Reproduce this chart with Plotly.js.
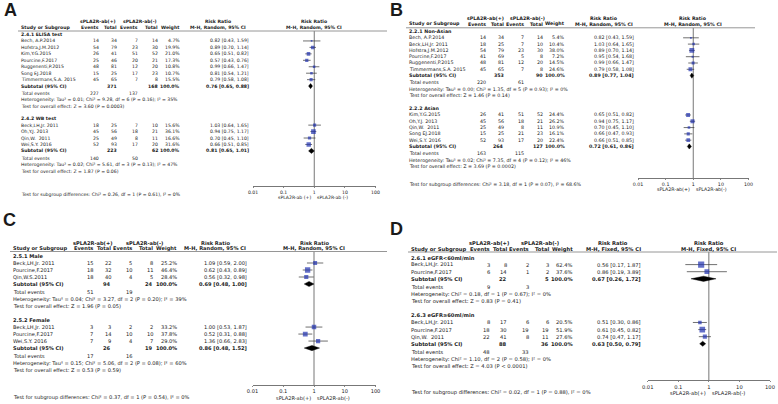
<!DOCTYPE html>
<html><head><meta charset="utf-8">
<script src="https://cdn.plot.ly/plotly-3.0.1.min.js"></script>
<style>html,body{margin:0;padding:0;background:#fff}#chart{width:778px;height:404px}</style>
</head><body><div id="chart"></div>
<script>
// ---------------- Common ----------------
const tickVals = [0.01, 0.1, 1, 10, 100];
const tickLabels = ["0.01", "0.1", "1", "10", "100"];
const posLabel = "sPLA2R-ab(+)";
const negLabel = "sPLA2R-ab(-)";

// ---------------- Panel A ----------------
const aGroupTitles = ["2.4.1 ELISA test", "2.4.2 WB test"];
const aStudy = ["Bech, A.P.2014", "Hofstra,J.M.2012", "Kim,Y.G.2015", "Pourcine,F.2017", "Ruggenenti,P.2015", "Song EJ.2018", "Timmermans,S.A. 2015", "Beck,LH,Jr. 2011", "Oh,Y.J. 2013", "Qin,W.  2011", "Wei,S.Y. 2016"];
const aGroup = [0, 0, 0, 0, 0, 0, 0, 1, 1, 1, 1];
const aEvPos = [14, 54, 26, 25, 48, 15, 45, 18, 45, 25, 52];
const aTotPos = [34, 79, 41, 46, 81, 25, 65, 25, 56, 49, 93];
const aEvNeg = [7, 23, 51, 20, 12, 17, 7, 7, 18, 8, 17];
const aTotNeg = [14, 30, 52, 21, 20, 23, 8, 10, 21, 11, 20];
const aWeight = [4.7, 19.9, 21.0, 17.3, 10.8, 10.7, 15.5, 15.6, 36.1, 16.6, 31.6];
const aRR = [0.82, 0.89, 0.65, 0.57, 0.99, 0.81, 0.79, 1.03, 0.94, 0.70, 0.66];
const aLo = [0.43, 0.70, 0.51, 0.43, 0.66, 0.54, 0.58, 0.64, 0.75, 0.45, 0.51];
const aHi = [1.59, 1.14, 0.82, 0.76, 1.47, 1.21, 1.08, 1.65, 1.17, 1.10, 0.85];
const aSubTotPos = [371, 223];
const aSubTotNeg = [168, 62];
const aSubRR = [0.76, 0.81];
const aSubLo = [0.65, 0.65];
const aSubHi = [0.88, 1.01];
const aSumEvPos = [227, 140];
const aSumEvNeg = [137, 50];
const aHet = ["Heterogeneity: Tau² = 0.01; Chi² = 9.28, df = 6 (P = 0.16); I² = 35%", "Heterogeneity: Tau² = 0.02; Chi² = 5.61, df = 3 (P = 0.13); I² = 47%"];
const aTest = ["Test for overall effect: Z = 3.60 (P = 0.0003)", "Test for overall effect: Z = 1.87 (P = 0.06)"];
const aSubgroupDiff = "Test for subgroup differences: Chi² = 0.26, df = 1 (P = 0.61), I² = 0%";
const aMethod = "M-H, Random, 95% CI";
const aAxisLabels = ["sPLA2R-ab (+)", "sPLA2R-ab (-)"];

// ---------------- Panel B ----------------
const bGroupTitles = ["2.2.1 Non-Asian", "2.2.2 Asian"];
const bStudy = ["Bech, A.P.2014", "Beck,LH,Jr. 2011", "Hofstra,J.M.2012", "Pourcine,F.2017", "Ruggenenti,P.2015", "Timmermans,S.A. 2015", "Kim,Y.G.2015", "Oh,Y.J. 2013", "Qin,W.  2011", "Song EJ.2018", "Wei,S.Y. 2016"];
const bGroup = [0, 0, 0, 0, 0, 0, 1, 1, 1, 1, 1];
const bEvPos = [14, 18, 54, 41, 48, 45, 26, 45, 25, 15, 52];
const bTotPos = [34, 25, 79, 69, 81, 65, 41, 56, 49, 25, 93];
const bEvNeg = [7, 7, 23, 5, 12, 7, 51, 18, 8, 21, 17];
const bTotNeg = [14, 10, 30, 8, 20, 8, 52, 21, 11, 23, 20];
const bWeight = [5.4, 10.4, 38.0, 7.2, 14.5, 24.6, 24.4, 26.2, 10.9, 16.1, 22.4];
const bRR = [0.82, 1.03, 0.89, 0.95, 0.99, 0.79, 0.65, 0.94, 0.70, 0.66, 0.66];
const bLo = [0.43, 0.64, 0.70, 0.54, 0.66, 0.58, 0.51, 0.75, 0.45, 0.47, 0.51];
const bHi = [1.59, 1.65, 1.14, 1.68, 1.47, 1.08, 0.82, 1.17, 1.10, 0.93, 0.85];
const bSubTotPos = [353, 264];
const bSubTotNeg = [90, 127];
const bSubRR = [0.89, 0.72];
const bSubLo = [0.77, 0.61];
const bSubHi = [1.04, 0.86];
const bSumEvPos = [220, 163];
const bSumEvNeg = [61, 115];
const bHet = ["Heterogeneity: Tau² = 0.00; Chi² = 1.35, df = 5 (P = 0.93); I² = 0%", "Heterogeneity: Tau² = 0.02; Chi² = 7.35, df = 4 (P = 0.12); I² = 46%"];
const bTest = ["Test for overall effect: Z = 1.46 (P = 0.14)", "Test for overall effect: Z = 3.69 (P = 0.0002)"];
const bSubgroupDiff = "Test for subgroup differences: Chi² = 3.18, df = 1 (P = 0.07), I² = 68.6%";
const bMethod = "M-H, Random, 95% CI";
const bAxisLabels = ["sPLA2R-ab(+)", "sPLA2R-ab(-)"];

// ---------------- Panel C ----------------
const cGroupTitles = ["2.5.1 Male", "2.5.2 Female"];
const cStudy = ["Beck,LH,Jr. 2011", "Pourcine,F.2017", "Qin,W.S.2011", "Beck,LH,Jr. 2011", "Pourcine,F.2017", "Wei,S.Y. 2016"];
const cGroup = [0, 0, 0, 1, 1, 1];
const cEvPos = [15, 18, 18, 3, 7, 7];
const cTotPos = [22, 32, 40, 3, 14, 9];
const cEvNeg = [5, 10, 4, 2, 10, 4];
const cTotNeg = [8, 11, 5, 2, 10, 7];
const cWeight = [25.2, 46.4, 28.4, 33.2, 37.8, 29.0];
const cRR = [1.09, 0.62, 0.56, 1.00, 0.52, 1.36];
const cLo = [0.59, 0.43, 0.32, 0.53, 0.31, 0.66];
const cHi = [2.00, 0.89, 0.98, 1.87, 0.88, 2.83];
const cSubTotPos = [94, 26];
const cSubTotNeg = [24, 19];
const cSubRR = [0.69, 0.86];
const cSubLo = [0.48, 0.48];
const cSubHi = [1.00, 1.52];
const cSumEvPos = [51, 17];
const cSumEvNeg = [19, 16];
const cHet = ["Heterogeneity: Tau² = 0.04; Chi² = 3.27, df = 2 (P = 0.20); I² = 39%", "Heterogeneity: Tau² = 0.15; Chi² = 5.06, df = 2 (P = 0.08); I² = 60%"];
const cTest = ["Test for overall effect: Z = 1.96 (P = 0.05)", "Test for overall effect: Z = 0.53 (P = 0.59)"];
const cSubgroupDiff = "Test for subgroup differences: Chi² = 0.37, df = 1 (P = 0.54), I² = 0%";
const cMethod = "M-H, Random, 95% CI";
const cAxisLabels = ["sPLA2R-ab(+)", "sPLA2R-ab(-)"];

// ---------------- Panel D ----------------
const dGroupTitles = ["2.6.1 eGFR<60ml/min", "2.6.3 eGFR≥60ml/min"];
const dStudy = ["Beck,LH,Jr. 2011", "Pourcine,F.2017", "Beck,LH,Jr. 2011", "Pourcine,F.2017", "Qin,W.  2011"];
const dGroup = [0, 0, 1, 1, 1];
const dEvPos = [3, 6, 8, 18, 22];
const dTotPos = [8, 14, 17, 30, 41];
const dEvNeg = [2, 1, 6, 19, 8];
const dTotNeg = [3, 2, 6, 19, 11];
const dWeight = [62.4, 37.6, 20.5, 51.9, 27.6];
const dRR = [0.56, 0.86, 0.51, 0.61, 0.74];
const dLo = [0.17, 0.19, 0.30, 0.45, 0.47];
const dHi = [1.87, 3.89, 0.86, 0.82, 1.17];
const dSubTotPos = [22, 88];
const dSubTotNeg = [5, 36];
const dSubRR = [0.67, 0.63];
const dSubLo = [0.26, 0.50];
const dSubHi = [1.72, 0.79];
const dSumEvPos = [9, 48];
const dSumEvNeg = [3, 33];
const dHet = ["Heterogeneity: Chi² = 0.18, df = 1 (P = 0.67); I² = 0%", "Heterogeneity: Chi² = 1.10, df = 2 (P = 0.58); I² = 0%"];
const dTest = ["Test for overall effect: Z = 0.83 (P = 0.41)", "Test for overall effect: Z = 4.03 (P < 0.0001)"];
const dSubgroupDiff = "Test for subgroup differences: Chi² = 0.02, df = 1 (P = 0.88), I² = 0%";
const dMethod = "M-H, Fixed, 95% CI";
const dAxisLabels = ["sPLA2R-ab(+)", "sPLA2R-ab(-)"];

// ---------------- Rendering ----------------
const W = 778, H = 404;
const FONT = "DejaVu Sans, Verdana, sans-serif";
const LETTER_FONT = "Liberation Sans, Arial, sans-serif";
const TXT = "#1a1a1a";
const annotations = [], shapes = [], traces = [];
const layout = {
  width: W, height: H, margin: {l: 0, r: 0, t: 0, b: 0},
  paper_bgcolor: "#fff", plot_bgcolor: "rgba(0,0,0,0)",
  showlegend: false, annotations: annotations, shapes: shapes,
  font: {family: FONT, size: 5, color: TXT}
};

function esc(s) { return String(s).replace(/&/g, "&amp;").replace(/</g, "&lt;").replace(/>/g, "&gt;"); }
function ann(x, y, text, anchor, bold, size, fam) {
  const t = esc(text);
  annotations.push({
    xref: "paper", yref: "paper", x: x / W, y: 1 - y / H,
    text: bold ? "<b>" + t + "</b>" : t,
    xanchor: anchor || "left", yanchor: "middle", showarrow: false,
    borderpad: 0, font: {family: fam || FONT, size: size, color: TXT}
  });
}
function ciText(r, l, h) { return r.toFixed(2) + " [" + l.toFixed(2) + ", " + h.toFixed(2) + "]"; }

function rowLayout(sizes, L) {
  const out = {title: [], study: [], sub: [], tot: [], het: [], test: []};
  let y = L.title;
  sizes.forEach((n, g) => {
    if (g > 0) y += L.step * L.gap2;
    out.title.push(y);
    for (let i = 0; i < n; i++) { y += L.step; out.study.push(y); }
    y += L.step; out.sub.push(y);
    y += L.step * 1.15; out.tot.push(y);
    y += L.step; out.het.push(y);
    y += L.step; out.test.push(y);
  });
  return out;
}

function buildPanel(n, d, L) {
  const sfx = n === 1 ? "" : String(n);
  const xa = "x" + sfx, ya = "y" + sfx;
  const fs = L.fs;
  layout["xaxis" + sfx] = {
    type: "log", range: [-2, 2], domain: [L.f0 / W, L.f1 / W], anchor: ya,
    showline: true, linecolor: "#555", linewidth: 0.8,
    ticks: "outside", ticklen: 1.5, tickwidth: 0.7, tickcolor: "#555",
    tickvals: tickVals, ticktext: tickLabels,
    tickfont: {family: FONT, size: fs, color: TXT},
    showgrid: false, zeroline: false, fixedrange: true
  };
  layout["yaxis" + sfx] = {
    visible: false, domain: [1 - L.axisY / H, 1 - L.lineY / H],
    range: [L.axisY, L.lineY], fixedrange: true
  };
  const oneX = (L.f0 + L.f1) / 2;

  ann(L.lx, L.ly, L.letter, "left", true, 18, LETTER_FONT);
  ann(L.hdrPX, L.head1, posLabel, "center", true, fs);
  ann(L.hdrNX, L.head1, negLabel, "center", true, fs);
  ann(L.rrHX, L.head1, "Risk Ratio", "center", true, fs);
  ann(oneX, L.head1, "Risk Ratio", "center", true, fs);
  ann(L.nameX, L.head2, "Study or Subgroup", "left", true, fs);
  ann(L.evPX, L.head2, "Events", "right", true, fs);
  ann(L.totPX, L.head2, "Total", "right", true, fs);
  ann(L.evNX, L.head2, "Events", "right", true, fs);
  ann(L.totNX, L.head2, "Total", "right", true, fs);
  ann(L.wX, L.head2, "Weight", "right", true, fs);
  ann(L.rrHX, L.head2, d.method, "center", true, fs);
  ann(oneX, L.head2, d.method, "center", true, fs);
  shapes.push({type: "line", xref: "paper", yref: "paper",
    x0: L.lineX0 / W, x1: L.lineX1 / W, y0: 1 - L.lineY / H, y1: 1 - L.lineY / H,
    line: {color: "#8a8a8a", width: 0.9}});

  const sizes = d.groupTitles.map((_, g) => d.group.filter(v => v === g).length);
  const R = rowLayout(sizes, L);

  const ciX = [], ciY = [], sqX = [], sqY = [], sqS = [];
  d.study.forEach((s, i) => {
    const y = R.study[i];
    ann(L.nameX, y, s, "left", false, fs);
    ann(L.evPX, y, d.evPos[i], "right", false, fs);
    ann(L.totPX, y, d.totPos[i], "right", false, fs);
    ann(L.evNX, y, d.evNeg[i], "right", false, fs);
    ann(L.totNX, y, d.totNeg[i], "right", false, fs);
    ann(L.wX, y, d.weight[i].toFixed(1) + "%", "right", false, fs);
    ann(L.rrX, y, ciText(d.rr[i], d.lo[i], d.hi[i]), "right", false, fs);
    ciX.push(d.lo[i], d.hi[i], null); ciY.push(y, y, null);
    sqX.push(d.rr[i]); sqY.push(y); sqS.push(Math.max(1.6, 0.78 * Math.sqrt(d.weight[i])));
  });
  const dmX = [], dmY = [];
  d.groupTitles.forEach((t, g) => {
    ann(L.nameX, R.title[g], t, "left", true, fs);
    const ys = R.sub[g];
    ann(L.nameX, ys, "Subtotal (95% CI)", "left", true, fs);
    ann(L.totPX, ys, d.subTotPos[g], "right", true, fs);
    ann(L.totNX, ys, d.subTotNeg[g], "right", true, fs);
    ann(L.wX, ys, "100.0%", "right", true, fs);
    ann(L.rrX, ys, ciText(d.subRR[g], d.subLo[g], d.subHi[g]), "right", true, fs);
    ann(L.nameX, R.tot[g], "Total events", "left", false, fs);
    ann(L.evPX, R.tot[g], d.sumEvPos[g], "right", false, fs);
    ann(L.evNX, R.tot[g], d.sumEvNeg[g], "right", false, fs);
    ann(L.nameX, R.het[g], d.het[g], "left", false, fs);
    ann(L.nameX, R.test[g], d.test[g], "left", false, fs);
    const hh = 2.6;
    dmX.push(d.subLo[g], d.subRR[g], d.subHi[g], d.subRR[g], d.subLo[g], null);
    dmY.push(ys, ys - hh, ys, ys + hh, ys, null);
  });
  ann(L.nameX, L.subY, d.subgroupDiff, "left", false, fs);

  ann(oneX - 2, L.axisY + L.titleOff, d.axisLabels[0], "right", false, fs);
  ann(oneX + 2, L.axisY + L.titleOff, d.axisLabels[1], "left", false, fs);

  traces.push({type: "scatter", mode: "lines", x: [1, 1], y: [L.lineY, L.axisY], xaxis: xa, yaxis: ya,
    line: {color: "#666", width: 0.9}, hoverinfo: "skip"});
  traces.push({type: "scatter", mode: "lines", x: ciX, y: ciY, xaxis: xa, yaxis: ya,
    line: {color: "#333", width: 0.7}, hoverinfo: "skip", connectgaps: false});
  traces.push({type: "scatter", mode: "markers", x: sqX, y: sqY, xaxis: xa, yaxis: ya,
    marker: {symbol: "square", size: sqS, color: "#2233b0", line: {width: 0}}, hoverinfo: "skip"});
  traces.push({type: "scatter", mode: "lines", x: dmX, y: dmY, xaxis: xa, yaxis: ya, fill: "toself",
    fillcolor: "#000", line: {color: "#000", width: 0.4}, hoverinfo: "skip"});
}

const LA = {letter: "A", lx: 3, ly: 10, fs: 4.6, nameX: 20, hdrPX: 98, hdrNX: 140, evPX: 100, totPX: 117.5, evNX: 138.5, totNX: 158.5, wX: 181, rrX: 250, rrHX: 218,
  f0: 253, f1: 375.5, head1: 21, head2: 27.8, lineY: 31, lineX0: 18, lineX1: 387, title: 34.5, step: 6.45, gap2: 1.9, axisY: 186, subY: 194.5, titleOff: 11.2};
const LB = {letter: "B", lx: 389, ly: 10, fs: 4.75, nameX: 408, hdrPX: 486, hdrNX: 527, evPX: 487, totPX: 504.5, evNX: 525, totNX: 544, wX: 566, rrX: 635, rrHX: 603.5,
  f0: 638, f1: 748.5, head1: 18, head2: 24.3, lineY: 27.8, lineX0: 406, lineX1: 755, title: 31.5, step: 6.3, gap2: 2.1, axisY: 178, subY: 185, titleOff: 11.4};
const LC = {letter: "C", lx: 2, ly: 220, fs: 5.1, nameX: 12, hdrPX: 93, hdrNX: 144, evPX: 94, totPX: 112, evNX: 133.4, totNX: 154, wX: 178, rrX: 248, rrHX: 215,
  f0: 252.5, f1: 375.5, head1: 242.5, head2: 248.3, lineY: 251.5, lineX0: 10, lineX1: 387, title: 256, step: 7.0, gap2: 2.0, axisY: 385, subY: 397.7, titleOff: 12.5};
const LD = {letter: "D", lx: 389, ly: 229, fs: 5.2, nameX: 410, hdrPX: 489, hdrNX: 540, evPX: 490.7, totPX: 508.4, evNX: 529.6, totNX: 549.8, wX: 574, rrX: 642, rrHX: 613,
  f0: 647.7, f1: 770, head1: 243.3, head2: 249.3, lineY: 252, lineX0: 408, lineX1: 777, title: 257.5, step: 7.1, gap2: 2.0, axisY: 380, subY: 392.7, titleOff: 12.5};

function pack(groupTitles, study, group, evPos, totPos, evNeg, totNeg, weight, rr, lo, hi,
              subTotPos, subTotNeg, subRR, subLo, subHi, sumEvPos, sumEvNeg, het, test, subgroupDiff, method, axisLabels) {
  return {groupTitles, study, group, evPos, totPos, evNeg, totNeg, weight, rr, lo, hi,
          subTotPos, subTotNeg, subRR, subLo, subHi, sumEvPos, sumEvNeg, het, test, subgroupDiff, method, axisLabels};
}

buildPanel(1, pack(aGroupTitles, aStudy, aGroup, aEvPos, aTotPos, aEvNeg, aTotNeg, aWeight, aRR, aLo, aHi,
  aSubTotPos, aSubTotNeg, aSubRR, aSubLo, aSubHi, aSumEvPos, aSumEvNeg, aHet, aTest, aSubgroupDiff, aMethod, aAxisLabels), LA);
buildPanel(2, pack(bGroupTitles, bStudy, bGroup, bEvPos, bTotPos, bEvNeg, bTotNeg, bWeight, bRR, bLo, bHi,
  bSubTotPos, bSubTotNeg, bSubRR, bSubLo, bSubHi, bSumEvPos, bSumEvNeg, bHet, bTest, bSubgroupDiff, bMethod, bAxisLabels), LB);
buildPanel(3, pack(cGroupTitles, cStudy, cGroup, cEvPos, cTotPos, cEvNeg, cTotNeg, cWeight, cRR, cLo, cHi,
  cSubTotPos, cSubTotNeg, cSubRR, cSubLo, cSubHi, cSumEvPos, cSumEvNeg, cHet, cTest, cSubgroupDiff, cMethod, cAxisLabels), LC);
buildPanel(4, pack(dGroupTitles, dStudy, dGroup, dEvPos, dTotPos, dEvNeg, dTotNeg, dWeight, dRR, dLo, dHi,
  dSubTotPos, dSubTotNeg, dSubRR, dSubLo, dSubHi, dSumEvPos, dSumEvNeg, dHet, dTest, dSubgroupDiff, dMethod, dAxisLabels), LD);

Plotly.newPlot("chart", traces, layout, {staticPlot: true, displayModeBar: false});
</script>
</body></html>
